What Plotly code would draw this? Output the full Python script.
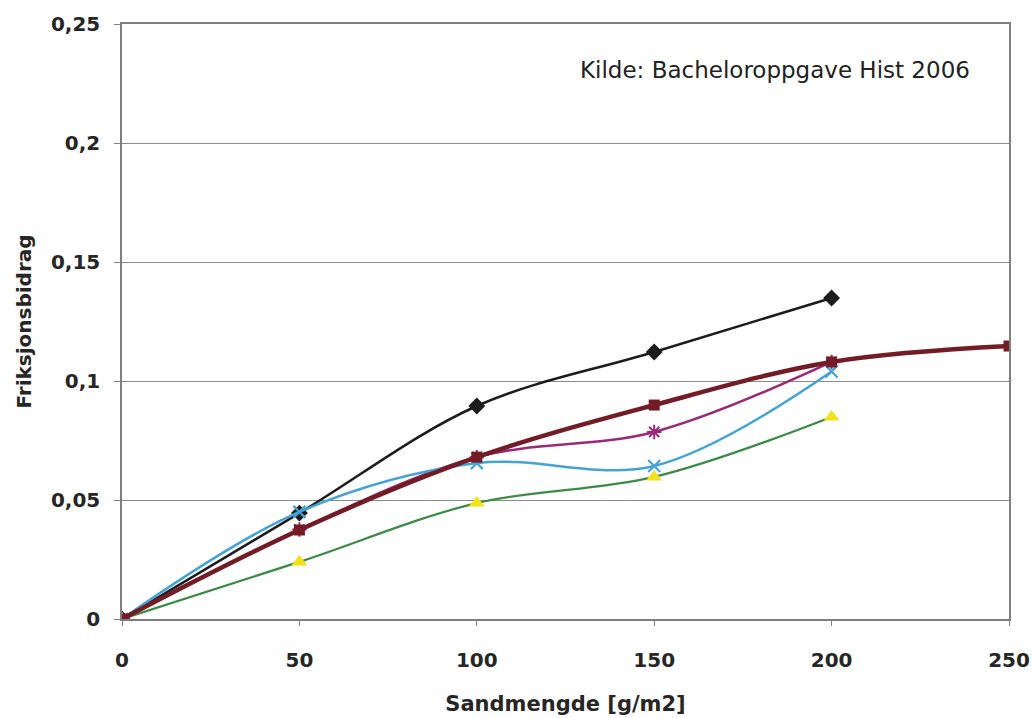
import plotly.graph_objects as go

x_vals = [0, 50, 100, 150, 200]
x_brown = [0, 50, 100, 150, 200, 250]

black_y = [0, 0.0445, 0.0895, 0.1122, 0.1349]
blue_y = [0, 0.045, 0.0655, 0.0643, 0.104]
purple_y = [0, 0.0376, 0.068, 0.0786, 0.108]
green_y = [0, 0.024, 0.0487, 0.0597, 0.0849]
brown_y = [0, 0.0374, 0.068, 0.0899, 0.108, 0.1147]

y_ticks = [0, 0.05, 0.1, 0.15, 0.2, 0.25]
y_tick_text = ["0", "0,05", "0,1", "0,15", "0,2", "0,25"]
x_ticks = [0, 50, 100, 150, 200, 250]

FONT = "DejaVu Sans, Liberation Sans, Arial, sans-serif"

fig = go.Figure()

fig.add_trace(go.Scatter(
    x=x_vals, y=black_y, mode="lines+markers",
    line=dict(color="#1c1c1c", width=2.5, shape="spline", smoothing=1),
    marker=dict(symbol="diamond", size=13, color="#1c1c1c"),
))
fig.add_trace(go.Scatter(
    x=x_vals, y=purple_y, mode="lines+markers",
    line=dict(color="#9a2a78", width=2.5, shape="spline", smoothing=1),
    marker=dict(symbol="asterisk-open", size=12, color="#9a2a78", line=dict(width=2, color="#9a2a78")),
))
fig.add_trace(go.Scatter(
    x=x_vals, y=blue_y, mode="lines+markers",
    line=dict(color="#42a3d6", width=2.5, shape="spline", smoothing=1),
    marker=dict(symbol="x-thin-open", size=12, color="#42a3d6", line=dict(width=2.2, color="#42a3d6")),
))
fig.add_trace(go.Scatter(
    x=x_vals, y=green_y, mode="lines",
    line=dict(color="#3b8a45", width=2.2, shape="spline", smoothing=1),
))
fig.add_trace(go.Scatter(
    x=x_vals, y=green_y, mode="markers",
    marker=dict(symbol="triangle-up", size=14, color="#f2e21a"),
))
fig.add_trace(go.Scatter(
    x=x_brown, y=brown_y, mode="lines+markers",
    line=dict(color="#731c26", width=4.5, shape="spline", smoothing=1),
    marker=dict(symbol="square", size=11, color="#731c26"),
))

fig.update_layout(
    width=1032, height=718,
    margin=dict(l=122, r=23, t=24, b=99),
    paper_bgcolor="white", plot_bgcolor="white",
    showlegend=False,
    font=dict(family=FONT, color="#222222"),
)

fig.update_xaxes(
    range=[0, 250], tickvals=x_ticks, automargin=False,
    showgrid=False, zeroline=False,
    showline=True, linecolor="#7f7f7f", linewidth=1.5, mirror=True,
    ticks="outside", ticklen=5, tickcolor="#7f7f7f",
    ticklabelstandoff=17,
    tickfont=dict(size=20, family=FONT, color="#262626", weight="bold"),
    title=dict(text="<b>Sandmengde [g/m2]</b>", font=dict(size=21, family=FONT, color="#262626"), standoff=26),
)
fig.update_yaxes(
    range=[0, 0.25], tickvals=y_ticks, ticktext=y_tick_text, automargin=False,
    showgrid=True, gridcolor="#8a8a8a", gridwidth=1, zeroline=False,
    showline=True, linecolor="#7f7f7f", linewidth=1.5, mirror=True,
    ticks="outside", ticklen=6, tickcolor="#7f7f7f",
    ticklabelstandoff=10,
    tickfont=dict(size=20, family=FONT, color="#262626", weight="bold"),
    title=dict(text="<b>Friksjonsbidrag</b>", font=dict(size=20, family=FONT, color="#262626"), standoff=14),
)

fig.add_annotation(
    x=0.736, y=0.922, xref="paper", yref="paper",
    xanchor="center", yanchor="middle",
    text="Kilde: Bacheloroppgave Hist 2006", showarrow=False,
    font=dict(size=23, color="#222222", family=FONT),
)

fig.write_html("out.html")
